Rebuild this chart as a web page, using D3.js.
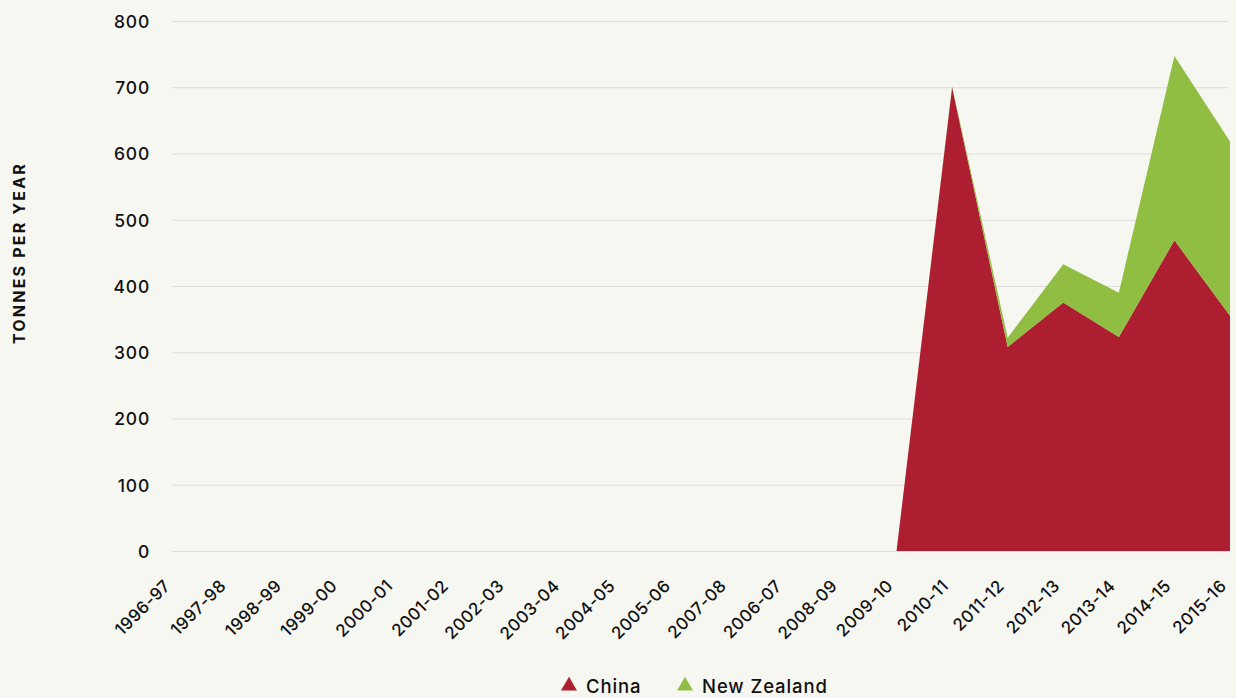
<!DOCTYPE html>
<html>
<head>
<meta charset="utf-8">
<script src="https://cdn.jsdelivr.net/npm/d3@7"></script>
<style>
  html, body { margin: 0; padding: 0; background: #f7f7f1; }
  svg { display: block; }
  svg text { font-family: Inter, "Open Sans", sans-serif; }
</style>
</head>
<body>
<svg id="chart" width="1236" height="698"></svg>
<script>
// Seasons as labelled on the axis (order kept as published)
const seasons = ["1996-97","1997-98","1998-99","1999-00","2000-01","2001-02","2002-03","2003-04","2004-05","2005-06","2007-08","2006-07","2008-09","2009-10","2010-11","2011-12","2012-13","2013-14","2014-15","2015-16"];
const china =      [0,0,0,0,0,0,0,0,0,0,0,0,0,0,700,308,375,323,469,355];
const newZealand = [0,0,0,0,0,0,0,0,0,0,0,0,0,0,1,14,58,67,278,263];
const seriesNames = ["China","New Zealand"];
const seriesColors = ["#ae1e31","#8fbe43"];
const yTicks = [0,100,200,300,400,500,600,700,800];

const svg = d3.select("#chart");
const margin = {left: 174, right: 6, top: 21, bottom: 147};
const W = 1236, H = 698;
const FONT = 'Inter, "Open Sans", sans-serif';

const x = d3.scalePoint().domain(seasons).range([margin.left, W - margin.right]);
const y = d3.scaleLinear().domain([0, 800]).range([H - margin.bottom, margin.top]);

// gridlines and y tick labels
svg.append("g")
  .attr("transform", `translate(${margin.left - 2},0)`)
  .call(d3.axisLeft(y).tickValues(yTicks).tickSize(-(W - margin.left - 6)).tickPadding(22))
  .attr("font-family", FONT)
  .call(g => g.select(".domain").remove())
  .call(g => g.selectAll(".tick line").attr("stroke", "#dcdcdc").attr("stroke-width", 1))
  .call(g => g.selectAll(".tick text")
    .attr("fill", "#111").attr("font-size", 17.5).attr("font-weight", 500)
    .attr("letter-spacing", 0.8).attr("dy", "0.36em"));

// stacked areas
const rows = seasons.map((s, i) => ({season: s, "China": china[i], "New Zealand": newZealand[i]}));
const stack = d3.stack().keys(seriesNames)(rows);
const area = d3.area()
  .x(d => x(d.data.season))
  .y0(d => y(d[0]))
  .y1(d => y(d[1]));

svg.append("g").selectAll("path")
  .data(stack)
  .join("path")
  .attr("fill", (d, i) => seriesColors[i])
  .attr("d", area);

// x axis labels, rotated
const xAxis = svg.append("g")
  .attr("transform", `translate(0,${H - margin.bottom})`)
  .call(d3.axisBottom(x).tickSize(0).tickPadding(0))
  .attr("font-family", FONT)
  .call(g => g.select(".domain").remove());
xAxis.selectAll(".tick text")
  .attr("fill", "#111")
  .attr("font-size", 17)
  .attr("font-weight", 500)
  .attr("letter-spacing", 0.4)
  .attr("text-anchor", "end")
  .attr("y", 0)
  .attr("dy", null)
  .attr("transform", "translate(-3,36) rotate(-45)");

// y axis title
svg.append("text")
  .attr("transform", `translate(25,253) rotate(-90)`)
  .attr("text-anchor", "middle")
  .attr("font-size", 16)
  .attr("font-weight", 700)
  .attr("letter-spacing", 2.2)
  .attr("fill", "#111")
  .text("TONNES PER YEAR");

// legend
const legend = svg.append("g").attr("transform", "translate(561,687)");
const entries = [{name: seriesNames[0], color: seriesColors[0], dx: 0}, {name: seriesNames[1], color: seriesColors[1], dx: 116}];
const items = legend.selectAll("g").data(entries).join("g")
  .attr("transform", d => `translate(${d.dx},0)`);
items.append("path")
  .attr("d", d3.symbol(d3.symbolTriangle, 110))
  .attr("transform", "translate(8,-1)")
  .attr("fill", d => d.color);
items.append("text")
  .attr("x", 25)
  .attr("y", 6)
  .attr("font-size", 18.5)
  .attr("font-weight", 500)
  .attr("letter-spacing", 0.9)
  .attr("fill", "#111")
  .text(d => d.name);
</script>
</body>
</html>
